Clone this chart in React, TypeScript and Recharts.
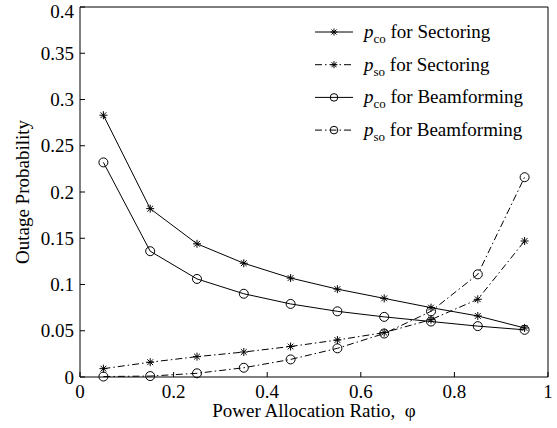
import React from 'react';
import { LineChart, Line, XAxis, YAxis } from 'recharts';

const phi = [0.05, 0.15, 0.25, 0.35, 0.45, 0.55, 0.65, 0.75, 0.85, 0.95];
const pcoSectoring = [0.283, 0.182, 0.144, 0.123, 0.107, 0.095, 0.085, 0.075, 0.066, 0.053];
const psoSectoring = [0.009, 0.016, 0.022, 0.027, 0.033, 0.04, 0.048, 0.062, 0.084, 0.147];
const pcoBeamforming = [0.232, 0.136, 0.106, 0.09, 0.079, 0.071, 0.065, 0.06, 0.055, 0.051];
const psoBeamforming = [0.0005, 0.001, 0.004, 0.01, 0.019, 0.031, 0.047, 0.071, 0.111, 0.216];

const xTicks = [0, 0.2, 0.4, 0.6, 0.8, 1];
const yTicks = [0, 0.05, 0.1, 0.15, 0.2, 0.25, 0.3, 0.35, 0.4];

const data = phi.map((p, i) => ({
  phi: p,
  pcoS: pcoSectoring[i],
  psoS: psoSectoring[i],
  pcoB: pcoBeamforming[i],
  psoB: psoBeamforming[i],
}));

const FONT = 'Liberation Serif';
const DASH_DOT = '7 3 1.5 3';

const Star = ({ cx, cy, r = 4 }: { cx: number; cy: number; r?: number }) => {
  const d = r * 0.72;
  return (
    <g stroke="#000" strokeWidth={1}>
      <line x1={cx - r} y1={cy} x2={cx + r} y2={cy} />
      <line x1={cx} y1={cy - r} x2={cx} y2={cy + r} />
      <line x1={cx - d} y1={cy - d} x2={cx + d} y2={cy + d} />
      <line x1={cx - d} y1={cy + d} x2={cx + d} y2={cy - d} />
    </g>
  );
};

const Ring = ({ cx, cy, r = 4.5 }: { cx: number; cy: number; r?: number }) => (
  <circle cx={cx} cy={cy} r={r} fill="none" stroke="#000" strokeWidth={1} />
);

const starDot = (props: any) => <Star key={`s-${props.index}`} cx={props.cx} cy={props.cy} />;
const ringDot = (props: any) => <Ring key={`r-${props.index}`} cx={props.cx} cy={props.cy} />;

const legendItems = [
  { sub: 'co', text: 'for Sectoring', dash: undefined, marker: 'star' },
  { sub: 'so', text: 'for Sectoring', dash: DASH_DOT, marker: 'star' },
  { sub: 'co', text: 'for Beamforming', dash: undefined, marker: 'ring' },
  { sub: 'so', text: 'for Beamforming', dash: DASH_DOT, marker: 'ring' },
];

// legend drawn as an overlay, top right inside the axes
const LegendBox = () => (
  <svg
    width={557}
    height={428}
    style={{ position: 'absolute', left: 0, top: 0, pointerEvents: 'none' }}
    fontFamily={FONT}
  >
    {legendItems.map((it, i) => {
      const y = 32 + i * 32.7;
      return (
        <g key={i}>
          <line x1={315} y1={y} x2={353} y2={y} stroke="#000" strokeWidth={1} strokeDasharray={it.dash} />
          {it.marker === 'star' ? <Star cx={334} cy={y} r={3.5} /> : <Ring cx={334} cy={y} r={3.8} />}
          <text x={364} y={y + 6} fontSize={19} fill="#000">
            <tspan fontStyle="italic">p</tspan>
            <tspan fontSize={13} dy={5}>{it.sub}</tspan>
            <tspan dy={-5}>{' ' + it.text}</tspan>
          </text>
        </g>
      );
    })}
  </svg>
);

const tickStyle = { fill: '#000', fontSize: 19, fontFamily: FONT };

export default function App() {
  return (
    <div style={{ position: 'absolute', left: 0, top: 0, width: 557, height: 428, background: '#fff' }}>
      <LineChart
        width={557}
        height={428}
        data={data}
        margin={{ top: 6, right: 8, bottom: 21, left: 0 }}
        style={{ fontFamily: FONT }}
      >
        <XAxis
          dataKey="phi"
          type="number"
          domain={[0, 1]}
          ticks={xTicks}
          tickFormatter={(v: number) => String(v)}
          stroke="#000"
          tick={tickStyle}
          tickSize={-5}
          tickMargin={13}
          height={30}
          label={{ value: 'Power Allocation Ratio,\u00a0\u00a0\u03c6', position: 'bottom', offset: -3, fill: '#000', fontSize: 19, fontFamily: FONT }}
        />
        <XAxis
          xAxisId="top"
          orientation="top"
          type="number"
          domain={[0, 1]}
          ticks={xTicks}
          tick={false}
          tickSize={-5}
          height={1}
          stroke="#000"
        />
        <YAxis
          type="number"
          domain={[0, 0.4]}
          ticks={yTicks}
          tickFormatter={(v: number) => String(v)}
          stroke="#000"
          tick={tickStyle}
          tickSize={-5}
          tickMargin={11}
          width={80}
          label={{
            value: 'Outage Probability',
            angle: -90,
            position: 'insideLeft',
            offset: 22,
            fill: '#000',
            fontSize: 19,
            fontFamily: FONT,
            style: { textAnchor: 'middle' },
          }}
        />
        <YAxis
          yAxisId="right"
          orientation="right"
          type="number"
          domain={[0, 0.4]}
          ticks={yTicks}
          tick={false}
          tickSize={-5}
          width={1}
          stroke="#000"
        />
        <Line dataKey="pcoS" stroke="#000" strokeWidth={1} dot={starDot} isAnimationActive={false} />
        <Line dataKey="psoS" stroke="#000" strokeWidth={1} strokeDasharray={DASH_DOT} dot={starDot} isAnimationActive={false} />
        <Line dataKey="pcoB" stroke="#000" strokeWidth={1} dot={ringDot} isAnimationActive={false} />
        <Line dataKey="psoB" stroke="#000" strokeWidth={1} strokeDasharray={DASH_DOT} dot={ringDot} isAnimationActive={false} />
      </LineChart>
      <LegendBox />
    </div>
  );
}
